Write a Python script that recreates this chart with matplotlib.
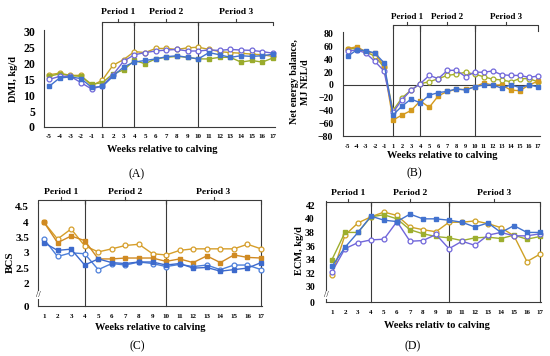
import matplotlib
matplotlib.use('Agg')
import matplotlib.pyplot as plt
import matplotlib.transforms as mtransforms

# x categories
weeks_ab = ['-5', '-4', '-3', '-2', '-1'] + [str(i) for i in range(1, 18)]
weeks_cd = [str(i) for i in range(1, 18)]

# (A) DMI, kg/d
dmi_s1 = [16.5, 17.0, 16.3, 16.3, 13.0, 14.8, 19.5, 21.3, 23.8, 23.5, 24.8, 24.8, 24.5, 25.0, 25.2, 24.5, 23.8, 23.5, 23.3, 23.0, 22.8, 22.3]
dmi_s2 = [16.0, 16.8, 16.2, 16.0, 13.5, 14.0, 16.8, 18.0, 21.0, 20.0, 21.5, 22.0, 22.3, 22.0, 21.5, 21.5, 22.0, 22.0, 20.5, 21.0, 20.5, 21.8]
dmi_s3 = [15.0, 16.0, 16.0, 14.0, 12.0, 13.0, 16.5, 20.8, 22.8, 23.5, 24.0, 24.3, 24.5, 24.0, 24.0, 24.3, 24.2, 24.5, 24.3, 24.2, 23.8, 23.3]
dmi_s4 = [12.8, 15.5, 15.8, 15.3, 12.5, 12.8, 16.0, 19.0, 20.5, 21.0, 21.5, 22.2, 22.5, 22.0, 21.5, 23.5, 22.8, 22.0, 22.5, 22.3, 22.5, 23.0]

# (B) Net energy balance, MJ NEL/d
neb_s1 = [57, 57, 52, 45, 28, -40, -20, -8, 2, 5, 10, 15, 17, 20, 17, 13, 9, 8, 5, 10, 10, 5]
neb_s2 = [57, 60, 52, 50, 30, -55, -47, -40, -25, -35, -17, -10, -7, -7, -3, 3, 0, 0, -8, -9, 0, 6]
neb_s3 = [53, 55, 50, 37, 22, -43, -23, -8, 2, 15, 10, 23, 23, 13, 20, 20, 22, 16, 15, 15, 12, 14]
neb_s4 = [45, 55, 54, 50, 35, -47, -33, -22, -28, -16, -12, -10, -6, -8, -3, 0, 0, -5, 0, -4, 0, -3]

# (C) BCS
bcs_s1 = [4.0, 3.45, 3.78, 3.23, 3.03, 3.13, 3.24, 3.28, 2.97, 2.93, 3.08, 3.13, 3.13, 3.13, 3.13, 3.28, 3.13]
bcs_s2 = [4.0, 3.33, 3.55, 3.4, 2.8, 2.8, 2.83, 2.83, 2.83, 2.72, 2.8, 2.68, 2.9, 2.68, 2.93, 2.85, 2.83]
bcs_s3 = [3.45, 2.88, 3.0, 2.97, 2.45, 2.65, 2.6, 2.7, 2.65, 2.55, 2.62, 2.55, 2.6, 2.45, 2.6, 2.6, 2.45]
bcs_s4 = [3.33, 3.08, 3.12, 2.6, 2.8, 2.68, 2.65, 2.7, 2.7, 2.6, 2.65, 2.5, 2.52, 2.4, 2.45, 2.5, 2.68]

# (D) ECM, kg/d
ecm_s1 = [31.8, 37.6, 39.4, 40.3, 41.0, 40.5, 38.8, 38.4, 38.1, 39.5, 39.5, 39.7, 39.3, 38.7, 37.5, 33.7, 34.8]
ecm_s2 = [34.0, 38.0, 38.0, 40.3, 40.6, 40.0, 38.4, 37.8, 37.4, 37.2, 36.8, 37.2, 37.3, 37.1, 37.6, 37.0, 37.4]
ecm_s3 = [32.2, 35.6, 36.5, 36.9, 37.0, 39.6, 36.7, 36.8, 37.7, 35.6, 36.7, 36.1, 37.6, 38.0, 37.5, 37.5, 37.8]
ecm_s4 = [33.0, 35.8, 38.0, 40.4, 39.8, 39.6, 40.7, 40.0, 40.0, 39.8, 39.5, 38.8, 39.4, 38.0, 39.0, 38.0, 38.0]

W, H = 550, 356
LINE = '#3a3a3a'
plt.rcParams['font.family'] = ['Liberation Serif', 'DejaVu Serif']
plt.rcParams['font.weight'] = 'bold'

fig = plt.figure(figsize=(W / 100, H / 100), dpi=100)


def add_ax(l, t, r, b):
    ax = fig.add_axes([l / W, 1 - b / H, (r - l) / W, (b - t) / H])
    for s in ['top', 'right']:
        ax.spines[s].set_visible(False)
    for s in ['left', 'bottom']:
        ax.spines[s].set_color(LINE)
        ax.spines[s].set_linewidth(0.8)
    return ax


def ftext(x, y, s, **kw):
    fig.text(x / W, 1 - y / H, s, **kw)


def draw_series(ax, series, colors, markers):
    x = range(len(series[0]))
    for ys, c, m in zip(series, colors, markers):
        if m == 'o':
            ax.plot(x, ys, color=c, lw=1.0, marker='o', ms=3.5, mfc='white', mec=c, mew=0.9, clip_on=False, zorder=3)
        else:
            ax.plot(x, ys, color=c, lw=1.0, marker='s', ms=3.0, mfc=c, mec=c, clip_on=False, zorder=3)


def periods(ax, t, b, bounds, y_br, y_lab, vlines, size, end_drop=3):
    fy = lambda p: (b - p) / (b - t)
    tr = mtransforms.blended_transform_factory(ax.transData, ax.transAxes)
    kw = dict(transform=tr, clip_on=False, color=LINE, lw=0.8)
    yb = fy(y_br)
    h = 3 / (b - t)
    for x in vlines:
        ax.plot([x, x], [0, yb], **kw)
    for i, (x0, x1) in enumerate(bounds):
        ax.plot([x0, x0, x1, x1], [yb - h, yb, yb, yb - end_drop / (b - t)], **kw)
        xm = (x0 + x1) / 2
        ax.plot([xm, xm], [yb, yb + h], **kw)
        ax.text(xm, fy(y_lab), 'Period %d' % (i + 1), transform=tr, ha='center', va='center',
                fontsize=size, fontweight='bold')


markers = ['o', 's', 'o', 's']

# ---------- (A)
axA = add_ax(44, 30, 275, 127)
draw_series(axA, [dmi_s1, dmi_s2, dmi_s3, dmi_s4], ['#C8A228', '#9AAB2C', '#6E66D8', '#4272CF'], markers)
axA.set_xlim(-0.47, 21.19)
axA.set_ylim(0, 30.63)
axA.set_yticks(range(0, 31, 5))
axA.set_xticks(range(len(weeks_ab)))
axA.set_xticklabels(weeks_ab)
axA.tick_params(axis='y', length=0, pad=6.5, labelsize=8.5)
axA.tick_params(axis='x', length=0, pad=5, labelsize=5)
periods(axA, 30, 127, [(5, 8), (8, 14), (14, 21)], 22, 12.5, [5, 8, 14], 6.8)
ftext(162, 150, 'Weeks relative to calving', ha='center', va='center', fontsize=7.5, fontweight='bold')
ftext(14, 79, 'DMI, kg/d', ha='center', va='center', rotation=90, fontsize=7.5, fontweight='bold')
ftext(137, 174, '(A)', ha='center', va='center', fontsize=8.5, fontweight='normal')

# ---------- (B)
axB = add_ax(343, 32, 540, 136)
draw_series(axB, [neb_s1, neb_s2, neb_s3, neb_s4], ['#A5AE2A', '#D49A1E', '#7066DA', '#4272CF'], markers)
axB.axhline(0, color=LINE, lw=0.8, zorder=1)
axB.set_xlim(-0.52, 21.22)
axB.set_ylim(-80, 83.1)
axB.set_yticks(range(-80, 81, 20))
axB.set_xticks(range(len(weeks_ab)))
axB.set_xticklabels(weeks_ab)
axB.tick_params(axis='y', length=0, pad=7, labelsize=7)
axB.tick_params(axis='x', length=0, pad=6, labelsize=4.6)
periods(axB, 32, 136, [(5, 8), (8, 14), (14, 21)], 25, 17, [5, 8, 14], 6.5, end_drop=6)
ftext(442, 155, 'Weeks relative to calving', ha='center', va='center', fontsize=7.5, fontweight='bold')
ftext(300, 82, 'Net energy balance,\nMJ NEL/d', ha='center', va='center', rotation=90,
      fontsize=7.2, fontweight='bold', linespacing=1.15)
ftext(414, 173, '(B)', ha='center', va='center', fontsize=8.5, fontweight='normal')

# ---------- (C)
axC = add_ax(38, 203, 262, 306)
draw_series(axC, [bcs_s1, bcs_s2, bcs_s3, bcs_s4], ['#D69E2A', '#D08A22', '#4C7FDA', '#3D6ACC'], markers)
axC.set_xlim(-0.44, 16.07)
axC.set_ylim(1.26, 4.63)
axC.set_yticks([1.26, 2.0, 2.5, 3.0, 3.5, 4.0, 4.5])
axC.set_yticklabels(['0', '2', '2.5', '3', '3.5', '4', '4.5'])
axC.set_xticks(range(len(weeks_cd)))
axC.set_xticklabels(weeks_cd)
axC.tick_params(axis='y', length=0, pad=6.5, labelsize=8)
axC.tick_params(axis='x', length=0, pad=6, labelsize=5)
periods(axC, 203, 306, [(-0.44, 3), (3, 9), (9, 16)], 200, 192, [3, 9, 16], 6.8, end_drop=4)
axC.text(-0.44, 1.62, '//', ha='center', va='center', fontsize=6, fontweight='normal', clip_on=False,
         bbox=dict(fc='white', ec='none', pad=0.2))
ftext(150, 328, 'Weeks relative to calving', ha='center', va='center', fontsize=7.5, fontweight='bold')
ftext(10, 262, 'BCS', ha='center', va='center', rotation=90, fontsize=8, fontweight='bold')
ftext(137, 346, '(C)', ha='center', va='center', fontsize=8.5, fontweight='normal')

# ---------- (D)
axD = add_ax(326, 201, 541, 302)
draw_series(axD, [ecm_s1, ecm_s2, ecm_s3, ecm_s4], ['#CFA125', '#9DAE2E', '#7066DA', '#4272CF'], markers)
axD.set_xlim(-0.46, 16.08)
axD.set_ylim(27.75, 42.63)
axD.set_yticks([27.75] + list(range(30, 43, 2)))
axD.set_yticklabels(['0'] + [str(v) for v in range(30, 43, 2)])
axD.set_xticks(range(len(weeks_cd)))
axD.set_xticklabels(weeks_cd)
axD.tick_params(axis='y', length=0, pad=8, labelsize=7)
axD.tick_params(axis='x', length=0, pad=6, labelsize=5)
periods(axD, 201, 302, [(-0.46, 3), (3, 9), (9, 16)], 201.5, 193, [3, 9, 16], 6.8, end_drop=4)
axD.text(-0.46, 28.8, '//', ha='center', va='center', fontsize=6, fontweight='normal', clip_on=False,
         bbox=dict(fc='white', ec='none', pad=0.2))
ftext(437, 325, 'Weeks relativ to calving', ha='center', va='center', fontsize=7.5, fontweight='bold')
ftext(300, 251, 'ECM, kg/d', ha='center', va='center', rotation=90, fontsize=7.5, fontweight='bold')
ftext(413, 346, '(D)', ha='center', va='center', fontsize=8.5, fontweight='normal')

fig.savefig('out.png', dpi=100)
